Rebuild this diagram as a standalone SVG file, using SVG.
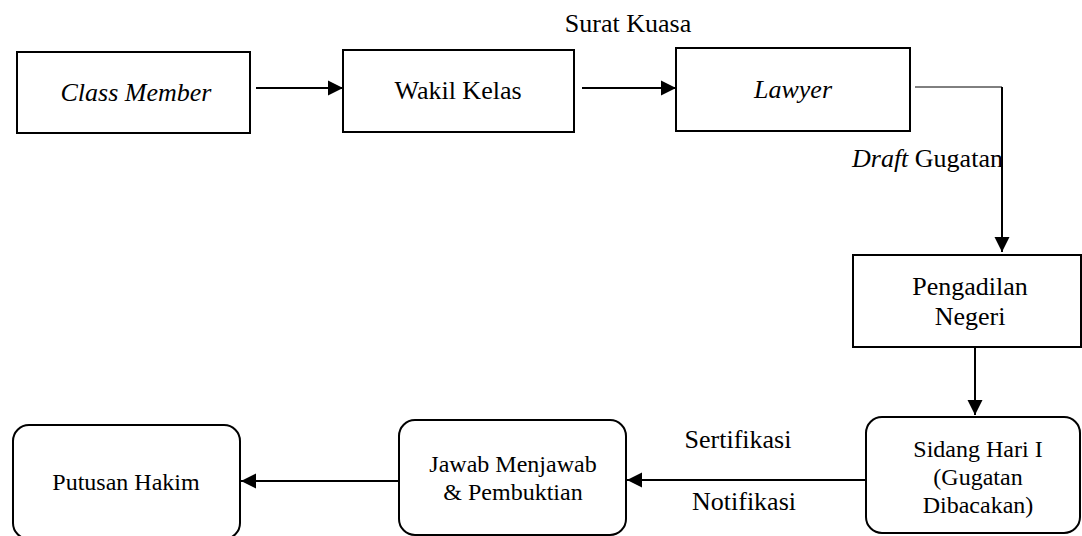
<svg xmlns="http://www.w3.org/2000/svg" width="1082" height="536" viewBox="0 0 1082 536">
<style>
.box{fill:#fff;stroke:#000;stroke-width:2}
.t{font-family:"Liberation Serif","Times New Roman",serif;font-size:26px;fill:#000;text-anchor:middle}
.s{font-size:24px}
.i{font-style:italic}
.c{stroke:#000;stroke-width:2;fill:none}
</style>
<defs>
<marker id="ah" markerUnits="userSpaceOnUse" markerWidth="16" markerHeight="16" viewBox="0 0 16 16" refX="15" refY="8" orient="auto">
<path d="M0,0.5 L15,8 L0,15.5 Z" fill="#000"/>
</marker>
</defs>
<rect width="1082" height="536" fill="#fff"/>
<g id="connectors">
<line class="c" x1="256" y1="88" x2="343" y2="88" marker-end="url(#ah)"/>
<line class="c" x1="582" y1="88" x2="676" y2="88" marker-end="url(#ah)"/>
<polyline points="915,87 1002,87" fill="none" stroke="#000" stroke-width="1"/>
<line class="c" x1="1002" y1="87" x2="1002" y2="252" marker-end="url(#ah)"/>
<line class="c" x1="975" y1="347" x2="975" y2="415" marker-end="url(#ah)"/>
<line class="c" x1="865" y1="480" x2="627" y2="480" marker-end="url(#ah)"/>
<line class="c" x1="398" y1="481" x2="241" y2="481" marker-end="url(#ah)"/>
<text class="t" x="628" y="32">Surat Kuasa</text>
<text class="t" x="852" y="167" style="text-anchor:start"><tspan class="i">Draft</tspan> Gugatan</text>
<text class="t" x="738" y="448">Sertifikasi</text>
<text class="t" x="744" y="510">Notifikasi</text>
</g>
<g id="class-member">
<rect class="box" x="17" y="52" width="233" height="81"/>
<text class="t i" x="136" y="101">Class Member</text>
</g>
<g id="wakil-kelas">
<rect class="box" x="343" y="50" width="231" height="82"/>
<text class="t" x="458" y="99">Wakil Kelas</text>
</g>
<g id="lawyer">
<rect class="box" x="676" y="48" width="234" height="83"/>
<text class="t i" x="793" y="98">Lawyer</text>
</g>
<g id="pengadilan-negeri">
<rect class="box" x="853" y="255" width="228" height="92"/>
<text class="t" x="970" y="295">Pengadilan</text>
<text class="t" x="970" y="325">Negeri</text>
</g>
<g id="sidang">
<rect class="box" x="866" y="417" width="214" height="116" rx="16" ry="16"/>
<text class="t s" x="978" y="457">Sidang Hari I</text>
<text class="t s" x="978" y="485">(Gugatan</text>
<text class="t s" x="978" y="513">Dibacakan)</text>
</g>
<g id="jawab">
<rect class="box" x="399" y="420" width="227" height="115" rx="16" ry="16"/>
<text class="t s" x="513" y="472">Jawab Menjawab</text>
<text class="t s" x="513" y="500">&amp; Pembuktian</text>
</g>
<g id="putusan">
<rect class="box" x="13" y="425" width="227" height="114" rx="16" ry="16"/>
<text class="t s" x="126" y="490">Putusan Hakim</text>
</g>
</svg>
